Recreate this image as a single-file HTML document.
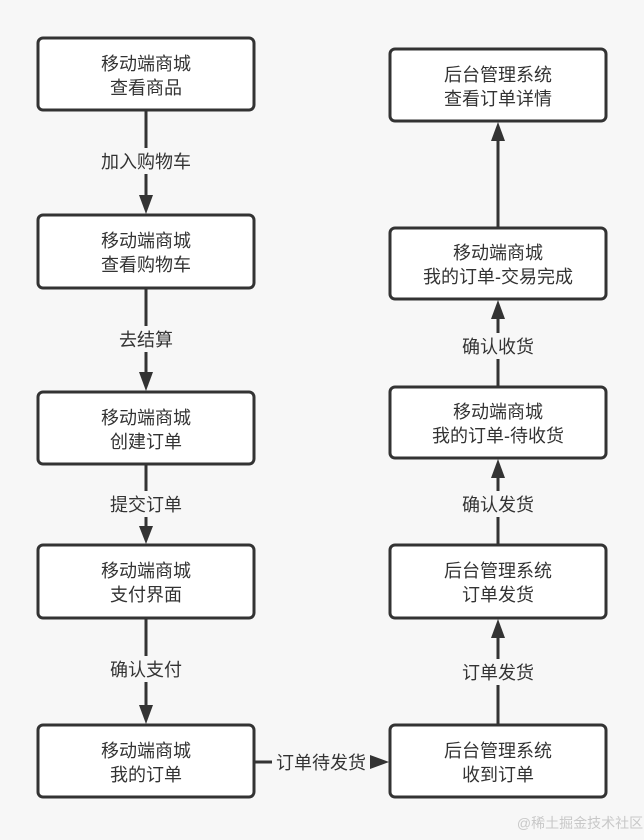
<!DOCTYPE html>
<html><head><meta charset="utf-8"><style>
html,body{margin:0;padding:0;background:#f7f7f7}
svg text{font-family:"Liberation Sans","Noto Sans CJK SC",sans-serif;font-size:18px;fill:#333;text-anchor:middle}
</style></head><body>
<svg width="644" height="835" viewBox="0 0 644 835" xmlns="http://www.w3.org/2000/svg">
<rect width="644" height="835" fill="#f7f7f7"/>
<g stroke="#333" stroke-width="3" fill="none">
<line x1="146" y1="111" x2="146" y2="196"/>
<line x1="146" y1="289" x2="146" y2="373"/>
<line x1="146" y1="465" x2="146" y2="527"/>
<line x1="146" y1="619" x2="146" y2="706"/>
<line x1="255" y1="762" x2="371" y2="762"/>
<line x1="498" y1="724" x2="498" y2="637"/>
<line x1="498" y1="544" x2="498" y2="477"/>
<line x1="498" y1="386" x2="498" y2="318"/>
<line x1="498" y1="227" x2="498" y2="140"/>
</g>
<g fill="#333">
<polygon points="139,195 153,195 146,214"/>
<polygon points="139,372 153,372 146,391"/>
<polygon points="139,526 153,526 146,544"/>
<polygon points="139,705 153,705 146,724"/>
<polygon points="370,755 370,769 389,762"/>
<polygon points="491,638 505,638 498,619"/>
<polygon points="491,478 505,478 498,459"/>
<polygon points="491,319 505,319 498,300"/>
<polygon points="491,141 505,141 498,122"/>
</g>
<g fill="#fff" stroke="#333" stroke-width="3">
<rect x="38" y="38" width="216" height="72" rx="5"/>
<rect x="38" y="215" width="216" height="73" rx="5"/>
<rect x="38" y="392" width="216" height="72" rx="5"/>
<rect x="38" y="545" width="216" height="73" rx="5"/>
<rect x="38" y="725" width="216" height="72" rx="5"/>
<rect x="390" y="49" width="216" height="72" rx="5"/>
<rect x="390" y="228" width="216" height="71" rx="5"/>
<rect x="390" y="387" width="216" height="71" rx="5"/>
<rect x="390" y="545" width="216" height="73" rx="5"/>
<rect x="390" y="725" width="216" height="72" rx="5"/>
</g>
<g fill="#f7f7f7">
<rect x="95" y="148" width="102" height="26"/>
<rect x="115" y="326" width="62" height="26"/>
<rect x="106" y="491" width="80" height="26"/>
<rect x="106" y="656" width="80" height="26"/>
<rect x="272" y="749" width="98" height="26"/>
<rect x="458" y="659" width="80" height="26"/>
<rect x="458" y="491" width="80" height="26"/>
<rect x="458" y="333" width="80" height="26"/>
</g>
<text x="146" y="70">移动端商城</text><text x="146" y="94">查看商品</text>
<text x="146" y="247">移动端商城</text><text x="146" y="271">查看购物车</text>
<text x="146" y="424">移动端商城</text><text x="146" y="448">创建订单</text>
<text x="146" y="577">移动端商城</text><text x="146" y="601">支付界面</text>
<text x="146" y="757">移动端商城</text><text x="146" y="781">我的订单</text>
<text x="498" y="81">后台管理系统</text><text x="498" y="105">查看订单详情</text>
<text x="498" y="259">移动端商城</text><text x="498" y="283">我的订单-交易完成</text>
<text x="498" y="418">移动端商城</text><text x="498" y="442">我的订单-待收货</text>
<text x="498" y="577">后台管理系统</text><text x="498" y="601">订单发货</text>
<text x="498" y="757">后台管理系统</text><text x="498" y="781">收到订单</text>
<text x="146" y="168">加入购物车</text>
<text x="146" y="346">去结算</text>
<text x="146" y="511">提交订单</text>
<text x="146" y="676">确认支付</text>
<text x="321" y="769">订单待发货</text>
<text x="498" y="679">订单发货</text>
<text x="498" y="511">确认发货</text>
<text x="498" y="353">确认收货</text>
<text x="580" y="828" style="font-size:14px;fill:#c8c8c8">@稀土掘金技术社区</text>
</svg>
</body></html>
